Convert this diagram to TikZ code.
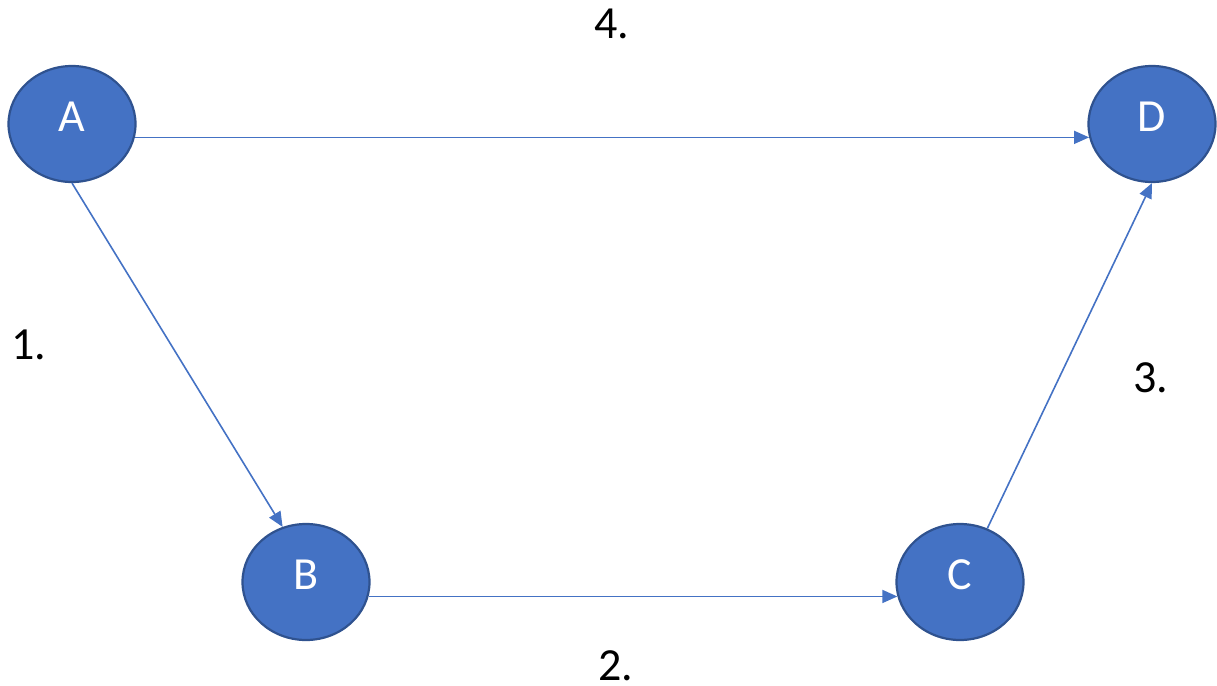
\documentclass[tikz,border=0pt]{standalone}
\usepackage{fontspec}
\setmainfont{Carlito}
\usetikzlibrary{shapes.geometric,arrows.meta}
\definecolor{nodefill}{HTML}{4472C4}
\definecolor{nodeline}{HTML}{2F528F}
\definecolor{edgecol}{HTML}{4472C4}
\begin{document}
\begin{tikzpicture}[x=1pt,y=-1pt,
  vertex/.style={ellipse,draw=nodeline,fill=nodefill,line width=2.2pt,minimum width=127pt,minimum height=116pt,inner sep=0pt},
  vtext/.style={text=white,font=\fontsize{46}{50}\selectfont},
  edge/.style={draw=edgecol,line width=1.6pt,-{Triangle[length=15pt,width=13pt]}},
  num/.style={text=black,font=\fontsize{46}{50}\selectfont,inner sep=0pt}]
\useasboundingbox (0,0) rectangle (1217,685);
\node[vertex] (A) at (72,124) {};
\node[vertex] (D) at (1152,124) {};
\node[vertex] (B) at (306,582) {};
\node[vertex] (C) at (960,582) {};
\node[vtext] (At) at (72,117) {A};
\node[vtext] (Dt) at (1152,117) {D};
\node[vtext] (Bt) at (306,575) {B};
\node[vtext] (Ct) at (960,575) {C};
\draw[edge] (A.-12.5) -- (D.192.5);
\draw[edge] (A.-90) -- (B.113.6);
\draw[edge] (B.-13.6) -- (C.193.6);
\draw[edge] (C.63) -- (D.-90);
\node[num] (n4) at (612,24) {4.};
\node[num] (n1) at (29,345) {1.};
\node[num] (n3) at (1151,378) {3.};
\node[num] (n2) at (616,666) {2.};
\end{tikzpicture}
\end{document}
